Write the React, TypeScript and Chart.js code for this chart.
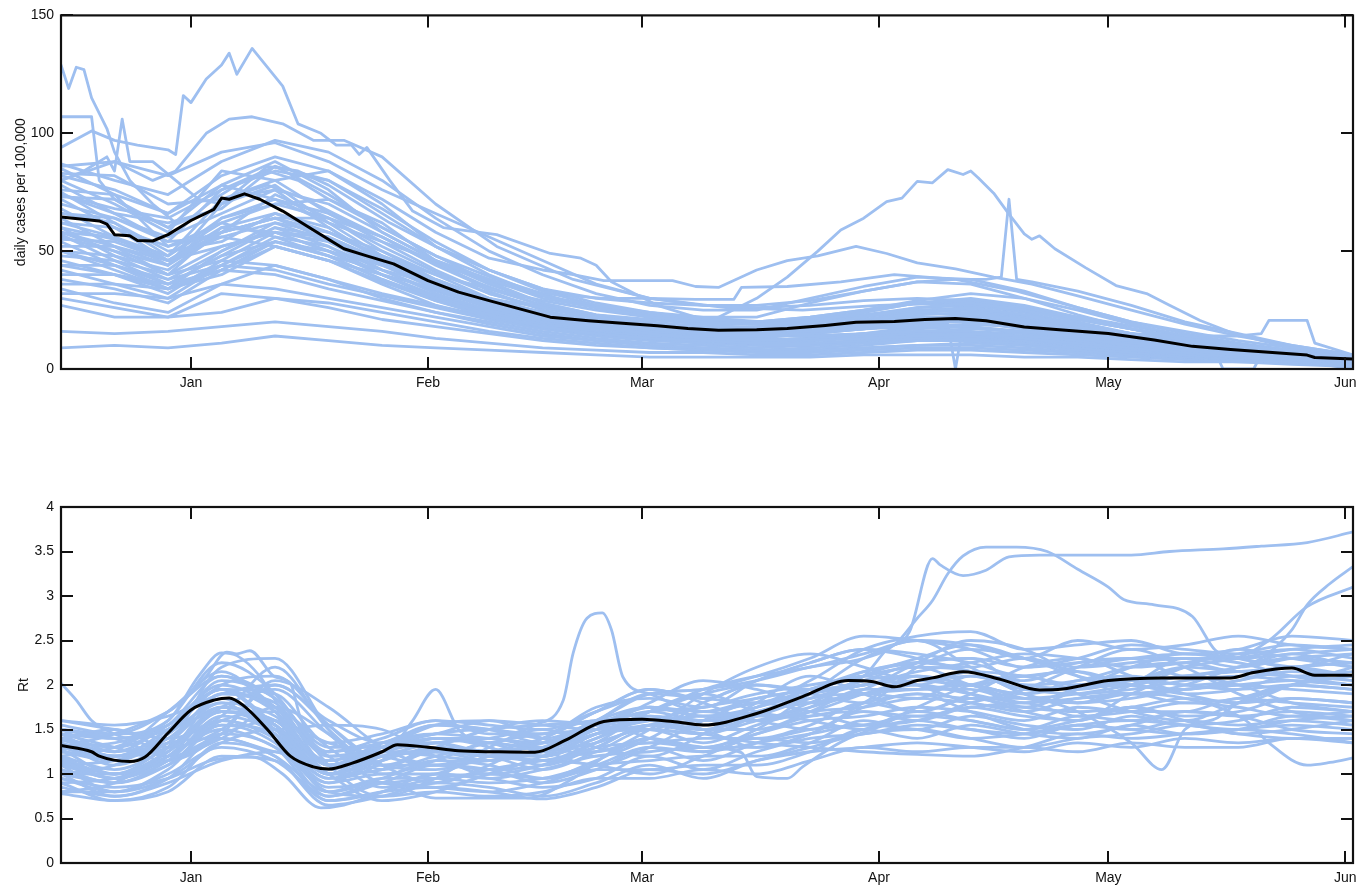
import React, { useEffect, useRef } from 'react';
import { Chart, registerables } from 'chart.js';

Chart.register(...registerables);

// ---------- axes ----------
const MONTH_DAYS = [0, 31, 59, 90, 120, 151];
const MONTH_LABELS = ['Jan', 'Feb', 'Mar', 'Apr', 'May', 'Jun'];
const X_MIN = -17;
const X_MAX = 152;
const CASES_TICKS = [0, 50, 100, 150];
const RT_TICKS = [0, 0.5, 1, 1.5, 2, 2.5, 3, 3.5, 4];

// shared weekly day grid (days since Jan 1) for the ordinary series
const GRID_DAYS = [-17, -10, -3, 4, 11, 18, 25, 32, 39, 46, 53, 60, 67, 74, 81, 88, 95, 102, 109, 116, 123, 130, 137, 144, 152];

// ---------- top panel: daily cases per 100,000 ----------
const CASES_MEAN_DAYS = [-17, -12, -11, -10, -8, -7, -5, -3, -1, 0, 3, 4, 5, 7, 9, 12, 16, 20, 23, 26.5, 31, 35, 39, 43, 47, 52, 56, 61, 65, 69, 74, 78, 83, 87, 92, 96, 100, 104, 109, 114, 120, 126, 131, 136, 141, 146, 147, 152];
const CASES_MEAN = [64.5, 62.8, 61.5, 57, 56.5, 54.5, 54.3, 57, 61, 63, 67.7, 72.5, 72, 74.3, 72, 67, 59, 51, 48, 44.6, 37.5, 32.6, 29, 25.5, 22, 20.5, 19.5, 18.3, 17.2, 16.4, 16.6, 17.2, 18.5, 19.8, 20.2, 21, 21.4, 20.5, 17.8, 16.5, 15.1, 12.3, 9.6, 8.3, 7.1, 5.9, 4.9, 4.2];

const CASES_LINES = [
  [85, 74, 66, 78, 88, 76, 58, 46, 38, 30, 26, 22, 20, 19, 20, 24, 28, 30, 27, 22, 17, 13, 10, 7, 5],
  [83, 82, 70, 72, 80, 84, 70, 52, 40, 31, 27, 24, 22, 22, 28, 33, 37, 36, 30, 23, 17, 12, 9, 7, 5],
  [80, 70, 58, 84, 80, 66, 54, 42, 32, 26, 21, 18, 16, 15, 17, 20, 24, 26, 23, 18, 14, 11, 8, 6, 4],
  [78, 66, 62, 68, 86, 74, 60, 48, 37, 28, 23, 21, 19, 17, 16, 17, 19, 21, 20, 17, 14, 11, 9, 6, 4],
  [76, 74, 52, 62, 70, 72, 62, 46, 33, 25, 20, 17, 15, 14, 15, 17, 18, 19, 18, 16, 13, 10, 8, 5, 3],
  [75, 62, 48, 72, 76, 60, 46, 37, 30, 26, 22, 19, 17, 17, 19, 22, 26, 28, 25, 20, 15, 11, 8, 6, 3],
  [73, 72, 60, 78, 72, 62, 54, 46, 38, 31, 26, 23, 21, 20, 22, 25, 29, 32, 30, 25, 19, 14, 10, 7, 5],
  [72, 60, 46, 58, 74, 64, 50, 38, 29, 23, 20, 18, 16, 14, 14, 15, 16, 17, 16, 14, 12, 10, 7, 5, 3],
  [70, 64, 54, 56, 62, 58, 50, 40, 30, 23, 18, 15, 13, 12, 13, 15, 17, 18, 16, 13, 10, 8, 6, 4, 3],
  [68, 56, 44, 70, 78, 62, 48, 40, 34, 29, 25, 22, 20, 19, 21, 24, 28, 29, 26, 21, 17, 13, 10, 8, 5],
  [66, 62, 50, 54, 66, 60, 46, 34, 26, 21, 18, 16, 15, 15, 16, 18, 20, 20, 17, 14, 11, 9, 7, 5, 3],
  [64, 52, 40, 60, 58, 50, 44, 36, 28, 22, 18, 16, 14, 13, 12, 13, 14, 15, 14, 12, 10, 8, 6, 4, 3],
  [62, 60, 52, 58, 64, 64, 56, 44, 34, 27, 22, 19, 17, 17, 19, 22, 25, 26, 23, 19, 15, 11, 9, 7, 5],
  [60, 48, 38, 50, 62, 54, 42, 32, 25, 20, 17, 15, 13, 12, 13, 14, 15, 15, 13, 11, 9, 7, 5, 4, 2],
  [58, 56, 48, 62, 56, 48, 42, 36, 29, 23, 20, 18, 17, 16, 17, 19, 21, 23, 21, 17, 13, 10, 8, 6, 4],
  [57, 46, 36, 48, 60, 52, 40, 30, 23, 18, 15, 13, 12, 11, 12, 14, 16, 16, 13, 10, 8, 7, 5, 4, 0],
  [55, 54, 46, 52, 58, 56, 46, 35, 27, 22, 19, 17, 15, 14, 15, 18, 21, 22, 20, 16, 12, 10, 8, 6, 4],
  [54, 44, 34, 44, 54, 48, 38, 29, 22, 18, 15, 13, 12, 11, 11, 12, 13, 14, 13, 11, 8, 6, 5, 3, 2],
  [52, 52, 46, 56, 52, 46, 40, 34, 29, 24, 21, 19, 18, 17, 18, 20, 22, 22, 19, 15, 12, 10, 8, 6, 4],
  [50, 42, 34, 42, 52, 46, 36, 27, 21, 17, 15, 13, 12, 11, 11, 12, 14, 14, 12, 10, 8, 7, 5, 4, 2],
  [48, 46, 40, 46, 58, 54, 44, 34, 26, 21, 18, 16, 14, 13, 15, 17, 20, 20, 17, 14, 11, 9, 7, 5, 3],
  [46, 40, 32, 46, 44, 38, 32, 27, 22, 18, 15, 13, 11, 10, 10, 11, 12, 13, 12, 10, 8, 6, 5, 3, 2],
  [44, 44, 38, 44, 56, 52, 42, 33, 26, 21, 18, 16, 15, 14, 16, 19, 22, 22, 18, 14, 12, 9, 7, 5, 3],
  [42, 36, 30, 44, 42, 36, 31, 26, 21, 17, 14, 12, 11, 10, 10, 11, 12, 12, 11, 9, 7, 6, 4, 3, 2],
  [40, 40, 36, 42, 54, 50, 40, 31, 24, 19, 16, 14, 13, 12, 13, 15, 18, 18, 15, 12, 10, 8, 6, 4, 3],
  [38, 34, 28, 42, 40, 34, 29, 24, 20, 16, 13, 11, 10, 9, 10, 12, 13, 13, 11, 9, 7, 5, 4, 3, 2],
  [36, 36, 34, 40, 52, 46, 37, 29, 23, 18, 15, 13, 12, 11, 12, 14, 15, 15, 13, 11, 9, 7, 5, 4, 2],
  [34, 28, 24, 36, 34, 30, 26, 22, 18, 14, 12, 10, 9, 8, 9, 10, 12, 12, 10, 8, 6, 5, 4, 3, 2],
  [32, 32, 30, 36, 44, 38, 30, 24, 19, 15, 12, 10, 9, 8, 8, 9, 10, 11, 10, 8, 6, 5, 4, 3, 2],
  [30, 26, 22, 32, 30, 28, 24, 20, 16, 13, 11, 9, 8, 8, 8, 9, 10, 10, 9, 7, 6, 5, 4, 3, 2],
  [27, 22, 22, 24, 30, 26, 21, 18, 15, 12, 10, 9, 8, 7, 7, 8, 9, 9, 8, 7, 6, 5, 4, 3, 2],
  [16, 15, 16, 18, 20, 18, 16, 13, 11, 9, 8, 7, 7, 6, 6, 7, 8, 8, 7, 6, 5, 4, 3, 3, 2],
  [9, 10, 9, 11, 14, 12, 10, 9, 8, 7, 6, 5, 5, 5, 5, 6, 6, 6, 5, 5, 4, 3, 3, 2, 1],
  [87, 80, 74, 88, 97, 92, 80, 64, 50, 40, 32, 27, 25, 25, 30, 35, 39, 38, 33, 26, 20, 16, 12, 9, 6],
  [80, 88, 82, 92, 96, 88, 76, 66, 56, 46, 36, 30, 27, 26, 27, 29, 30, 29, 26, 21, 17, 13, 10, 7, 5],
  [74, 68, 64, 76, 84, 80, 68, 54, 42, 33, 27, 23, 21, 20, 22, 25, 28, 28, 25, 21, 17, 13, 10, 7, 4],
  [66, 64, 56, 66, 76, 70, 58, 46, 36, 28, 23, 20, 18, 18, 20, 23, 26, 27, 24, 19, 15, 12, 9, 6, 4],
  [58, 50, 44, 64, 70, 64, 52, 41, 32, 26, 22, 19, 17, 16, 17, 20, 23, 24, 21, 17, 14, 11, 8, 6, 3],
  [50, 48, 42, 58, 64, 58, 48, 38, 30, 24, 20, 18, 16, 16, 18, 21, 24, 25, 22, 18, 14, 11, 8, 6, 4],
  [44, 40, 34, 50, 60, 56, 46, 37, 29, 23, 19, 17, 16, 15, 16, 18, 21, 21, 18, 15, 12, 9, 7, 5, 3],
];

// irregular series (own day lists)
const CASES_A_DAYS = [-17, -16, -15, -14, -13, -11, -10, -8, -5, -2, 2, 6, 10, 15, 20, 25, 31, 38, 45, 52, 60, 70, 80, 90, 100, 110, 120, 130, 140, 152];
const CASES_A = [129, 119, 128, 127, 115, 102, 92, 80, 70, 62, 66, 74, 78, 72, 64, 56, 46, 36, 28, 22, 18, 15, 14, 15, 16, 15, 12, 9, 6, 4];
const CASES_B_DAYS = [-17, -13, -10, -7, -3, -2, -1, 0, 2, 4, 5, 6, 8, 12, 14, 17, 19, 21, 22, 23, 26, 29, 33, 40, 47, 51, 53, 55, 61, 66, 75, 85, 95, 105, 115, 125, 135, 145, 152];
const CASES_B = [94, 101, 97, 95, 93, 91, 116, 113, 123, 129, 134, 125, 136, 120, 104, 100, 95, 95, 91, 94, 80, 67, 60, 57, 49, 47, 44, 37, 27, 22, 20, 22, 24, 22, 18, 14, 10, 7, 5];
const CASES_C_DAYS = [-17, -13, -12, -10, -7, -3, 0, 3, 7, 10, 14, 18, 25, 32, 40, 50, 60, 70, 80, 90, 100, 110, 120, 130, 140, 152];
const CASES_C = [107, 107, 80, 72, 66, 60, 64, 72, 80, 84, 80, 72, 60, 48, 38, 28, 22, 19, 19, 21, 22, 20, 16, 12, 8, 5];
const CASES_D_DAYS = [-17, -10, -5, -2, 2, 5, 8, 12, 16, 20, 25, 32, 40, 50, 60, 70, 80, 90, 100, 110, 120, 130, 140, 152];
const CASES_D = [86, 88, 80, 84, 100, 106, 107, 104, 97, 97, 90, 70, 52, 38, 30, 26, 25, 27, 28, 25, 20, 14, 9, 6];
const CASES_E_DAYS = [-17, -10, -3, 4, 11, 18, 25, 32, 39, 46, 53, 60, 66, 69, 74, 78, 82, 85, 88, 90, 91, 93, 95, 97, 99, 101, 102, 103, 105, 107, 109, 110, 111, 113, 117, 121, 125, 128, 132, 136, 140, 144, 148, 152];
const CASES_E = [58, 52, 44, 58, 64, 55, 45, 35, 28, 23, 20, 18, 19, 22, 30, 39, 50, 59, 64, 68.7, 71, 72.5, 79.6, 79, 84.6, 82.5, 84, 81, 74.6, 65.7, 57.3, 55, 56.5, 51, 43, 35.4, 32, 27, 20.6, 15.6, 12, 9, 7, 5];
const CASES_F_DAYS = [-17, -10, -3, 4, 11, 18, 25, 32, 39, 46, 53, 60, 67, 74, 81, 88, 95, 100, 104, 106, 107, 108, 110, 116, 123, 130, 137, 144, 152];
const CASES_F = [74, 66, 54, 76, 86, 80, 66, 52, 42, 34, 30, 28, 27, 27, 29, 33, 37, 38, 38, 39, 72, 38, 37, 33, 27, 20, 15, 10, 6];
const CASES_G_DAYS = [-17, -10, -3, 4, 11, 18, 25, 32, 39, 46, 50, 54, 60, 63, 66, 69, 74, 78, 82, 87, 91, 95, 100, 105, 110, 116, 123, 130, 137, 144, 152];
const CASES_G = [82, 76, 66, 82, 90, 84, 72, 58, 47, 42, 40, 37.5, 37.5, 37.5, 35, 34.6, 42, 46, 48, 52, 49, 45, 42.5, 39, 36, 31, 25, 19, 14, 10, 6];
const CASES_H_DAYS = [-17, -10, -3, 4, 11, 18, 25, 32, 39, 46, 54, 60, 66, 71, 72, 78, 85, 92, 100, 108, 116, 123, 130, 137, 144, 152];
const CASES_H = [60, 55, 48, 64, 72, 66, 56, 45, 37, 32, 30, 30, 29.5, 29.5, 34.6, 35, 37, 40, 38, 33, 26, 20, 15, 11, 8, 5];
const CASES_I_DAYS = [-17, -10, -3, 4, 11, 18, 25, 32, 39, 46, 53, 60, 67, 74, 81, 88, 95, 102, 109, 116, 123, 130, 137, 140, 141, 146, 147, 152];
const CASES_I = [62, 56, 46, 60, 66, 58, 47, 37, 29, 24, 20, 18, 16, 15, 16, 18, 20, 21, 19, 17, 15, 14, 14, 15, 20.6, 20.6, 11, 6];
const CASES_J_DAYS = [-17, -10, -3, 4, 11, 18, 25, 32, 39, 46, 53, 60, 67, 74, 81, 88, 95, 99, 100, 101, 109, 116, 123, 130, 137, 144, 152];
const CASES_J = [56, 50, 40, 52, 58, 50, 40, 31, 25, 20, 17, 15, 14, 14, 15, 17, 19, 19, 0, 19, 18, 15, 12, 9, 7, 5, 3];
const CASES_K_DAYS = [-17, -10, -3, 4, 11, 18, 25, 32, 39, 46, 53, 60, 67, 74, 81, 88, 95, 102, 109, 116, 123, 130, 134, 135, 139, 140, 144, 152];
const CASES_K = [50, 44, 36, 48, 54, 48, 38, 30, 24, 19, 16, 14, 12, 11, 12, 14, 15, 15, 14, 12, 10, 8, 7, 0, 0, 6, 4, 2];
const CASES_M_DAYS = [-17, -14, -11, -10, -9, -8, -5, -2, 1, 4, 7, 10, 14, 18, 22, 26, 32, 39, 46, 53, 60, 67, 74, 81, 88, 95, 102, 109, 116, 123, 130, 137, 144, 152];
const CASES_M = [80, 84, 90, 84, 106, 88, 88, 80, 72, 70, 78, 86, 84, 78, 70, 62, 52, 42, 34, 28, 24, 21, 20, 21, 23, 25, 25, 22, 19, 15, 12, 9, 7, 4];

// ---------- bottom panel: Rt ----------
const RT_MEAN_DAYS = [-17, -13, -12, -8, -6, -3, 0, 3, 5, 7, 10, 13, 16, 18, 21, 25, 27, 31, 35, 40, 45, 49, 54, 59, 63, 67, 74, 80, 86, 89, 92, 95, 97, 101, 106, 111, 114, 120, 127, 136, 139, 144, 147, 152];
const RT_MEAN = [1.32, 1.25, 1.2, 1.14, 1.19, 1.46, 1.72, 1.83, 1.855, 1.76, 1.5, 1.2, 1.08, 1.055, 1.12, 1.25, 1.33, 1.3, 1.26, 1.25, 1.245, 1.38, 1.59, 1.615, 1.59, 1.55, 1.68, 1.87, 2.05, 2.04, 1.98, 2.05, 2.08, 2.15, 2.06, 1.945, 1.955, 2.05, 2.08, 2.08, 2.14, 2.19, 2.11, 2.11];

const RT_LINES = [
  [1.55, 1.45, 1.7, 2.15, 1.7, 1.1, 1.3, 1.55, 1.5, 1.35, 1.6, 1.9, 1.85, 1.8, 2.05, 2.4, 2.55, 2.6, 2.4, 2.45, 2.5, 2.35, 2.4, 2.55, 2.5],
  [1.5, 1.25, 1.45, 2.05, 1.85, 1.25, 1.35, 1.45, 1.6, 1.55, 1.5, 1.7, 1.9, 2.0, 1.95, 2.15, 2.25, 2.2, 2.3, 2.2, 2.25, 2.3, 2.2, 2.3, 2.35],
  [1.45, 1.4, 1.5, 1.95, 1.9, 1.35, 1.45, 1.6, 1.45, 1.45, 1.75, 1.85, 1.75, 2.05, 2.25, 2.4, 2.3, 2.15, 2.05, 2.25, 2.3, 2.1, 2.2, 2.35, 2.2],
  [1.4, 1.2, 1.35, 1.9, 1.75, 1.2, 1.25, 1.4, 1.4, 1.3, 1.5, 1.75, 1.65, 1.7, 1.9, 2.05, 2.25, 2.3, 2.0, 2.05, 2.2, 2.25, 2.15, 2.2, 2.25],
  [1.38, 1.25, 1.55, 1.95, 1.5, 1.0, 1.3, 1.35, 1.25, 1.35, 1.55, 1.6, 1.55, 1.75, 1.95, 2.1, 2.0, 2.15, 2.1, 2.0, 2.05, 2.2, 2.15, 2.1, 2.15],
  [1.35, 1.1, 1.35, 1.8, 1.65, 1.1, 1.15, 1.4, 1.35, 1.2, 1.4, 1.65, 1.6, 1.6, 1.8, 2.05, 2.1, 2.0, 1.9, 2.05, 2.1, 2.0, 2.05, 2.2, 2.1],
  [1.3, 1.15, 1.4, 1.85, 1.45, 0.9, 1.2, 1.25, 1.15, 1.25, 1.45, 1.5, 1.45, 1.65, 1.85, 1.9, 1.85, 2.1, 1.95, 1.9, 1.95, 2.05, 2.1, 2.05, 2.0],
  [1.28, 1.0, 1.25, 1.7, 1.55, 1.0, 1.05, 1.3, 1.25, 1.15, 1.3, 1.55, 1.5, 1.5, 1.7, 1.95, 1.95, 1.95, 1.8, 1.95, 2.0, 1.9, 1.95, 2.1, 2.05],
  [1.25, 1.15, 1.45, 1.95, 1.55, 1.0, 1.25, 1.25, 1.2, 1.2, 1.45, 1.55, 1.6, 1.65, 1.65, 1.8, 1.9, 1.85, 1.85, 1.8, 1.85, 1.95, 2.0, 1.95, 1.9],
  [1.2, 0.95, 1.25, 1.75, 1.55, 1.0, 1.05, 1.25, 1.2, 1.05, 1.25, 1.5, 1.35, 1.55, 1.7, 1.75, 1.85, 1.8, 1.7, 1.85, 1.9, 1.8, 1.85, 2.0, 1.95],
  [1.18, 1.0, 1.3, 1.6, 1.4, 0.95, 1.1, 1.1, 1.05, 1.1, 1.3, 1.35, 1.4, 1.4, 1.55, 1.8, 1.7, 1.85, 1.75, 1.7, 1.75, 1.85, 1.8, 1.85, 1.8],
  [1.15, 0.95, 1.15, 1.65, 1.45, 0.8, 0.95, 1.15, 1.1, 0.95, 1.15, 1.4, 1.25, 1.45, 1.6, 1.65, 1.75, 1.7, 1.6, 1.75, 1.7, 1.7, 1.85, 1.8, 1.75],
  [1.12, 0.95, 1.2, 1.5, 1.3, 0.9, 1.0, 1.0, 0.95, 1.05, 1.2, 1.25, 1.3, 1.3, 1.45, 1.7, 1.6, 1.75, 1.65, 1.6, 1.75, 1.65, 1.7, 1.85, 1.8],
  [1.1, 0.8, 1.05, 1.55, 1.35, 0.75, 0.9, 1.1, 1.05, 0.9, 1.05, 1.3, 1.15, 1.35, 1.5, 1.55, 1.65, 1.6, 1.5, 1.65, 1.6, 1.7, 1.65, 1.7, 1.65],
  [1.05, 0.9, 1.1, 1.4, 1.2, 0.8, 0.95, 0.95, 0.9, 0.95, 1.1, 1.15, 1.2, 1.2, 1.35, 1.6, 1.5, 1.65, 1.55, 1.5, 1.65, 1.55, 1.6, 1.75, 1.7],
  [1.0, 0.75, 0.95, 1.45, 1.3, 0.7, 0.8, 1.0, 0.95, 0.85, 0.95, 1.2, 1.05, 1.25, 1.4, 1.45, 1.55, 1.5, 1.4, 1.55, 1.5, 1.6, 1.55, 1.6, 1.55],
  [0.95, 0.8, 1.0, 1.3, 1.15, 0.75, 0.9, 0.85, 0.8, 0.9, 1.05, 1.05, 1.1, 1.1, 1.25, 1.5, 1.4, 1.55, 1.45, 1.4, 1.55, 1.45, 1.5, 1.65, 1.6],
  [0.9, 0.7, 0.85, 1.35, 1.2, 0.65, 0.75, 0.9, 0.85, 0.75, 0.9, 1.1, 0.95, 1.15, 1.25, 1.3, 1.35, 1.3, 1.25, 1.35, 1.3, 1.4, 1.35, 1.4, 1.35],
  [0.85, 0.75, 0.9, 1.15, 1.25, 0.8, 0.75, 0.8, 0.75, 0.8, 0.95, 0.95, 1.05, 1.0, 1.15, 1.3, 1.25, 1.3, 1.3, 1.25, 1.35, 1.3, 1.3, 1.4, 1.4],
  [0.78, 0.7, 0.8, 1.2, 1.15, 0.7, 0.8, 0.85, 0.8, 0.72, 0.85, 1.05, 1.0, 1.15, 1.3, 1.45, 1.5, 1.4, 1.3, 1.4, 1.45, 1.55, 1.45, 1.4, 1.4],
  [1.6, 1.5, 1.4, 1.65, 2.2, 1.5, 1.1, 1.3, 1.5, 1.6, 1.55, 1.5, 1.8, 2.0, 1.9, 1.8, 2.2, 2.4, 2.3, 2.1, 2.0, 2.2, 2.4, 2.3, 2.2],
  [0.8, 0.9, 1.3, 2.2, 2.3, 1.5, 0.9, 1.0, 1.2, 1.3, 1.2, 1.4, 1.7, 1.6, 1.5, 1.8, 2.1, 1.9, 1.7, 1.6, 1.9, 2.1, 2.0, 1.8, 1.7],
  [1.4, 1.5, 1.3, 1.5, 2.0, 1.55, 1.1, 0.9, 1.1, 1.4, 1.6, 1.4, 1.3, 1.5, 1.9, 2.3, 2.5, 2.2, 1.9, 1.8, 2.0, 2.3, 2.25, 2.1, 2.0],
  [1.2, 1.3, 1.6, 2.25, 1.9, 1.1, 0.75, 0.95, 1.3, 1.5, 1.3, 1.2, 1.45, 1.8, 2.1, 1.9, 1.7, 1.9, 2.2, 2.3, 2.1, 1.9, 1.8, 2.0, 2.2],
  [1.0, 1.1, 1.45, 1.8, 1.5, 1.55, 1.5, 1.2, 1.0, 1.1, 1.35, 1.7, 1.9, 1.7, 1.6, 1.5, 1.75, 2.0, 2.1, 1.9, 1.7, 1.6, 1.8, 2.0, 2.1],
  [1.5, 1.4, 1.2, 1.4, 1.75, 1.45, 1.0, 1.15, 1.35, 1.25, 1.1, 1.3, 1.6, 1.8, 1.7, 1.55, 1.6, 1.8, 1.95, 2.2, 2.4, 2.2, 1.9, 1.7, 1.6],
  [0.9, 0.95, 1.2, 1.6, 1.7, 1.3, 0.9, 0.85, 1.0, 1.2, 1.45, 1.65, 1.5, 1.3, 1.45, 1.75, 1.9, 1.7, 1.5, 1.45, 1.55, 1.7, 1.65, 1.5, 1.45],
  [1.3, 1.45, 1.7, 2.1, 1.75, 1.1, 1.3, 1.55, 1.6, 1.4, 1.25, 1.5, 1.9, 2.2, 2.35, 2.2, 2.0, 1.8, 1.75, 1.95, 2.2, 2.35, 2.3, 2.2, 2.35],
  [1.1, 1.15, 1.35, 1.4, 1.25, 1.15, 1.3, 1.4, 1.3, 1.1, 1.3, 1.55, 1.45, 1.35, 1.3, 1.25, 1.22, 1.2, 1.3, 1.45, 1.4, 1.45, 1.5, 1.45, 1.35],
  [1.45, 1.3, 1.15, 1.45, 2.05, 1.75, 1.3, 1.1, 1.25, 1.4, 1.7, 1.95, 1.8, 1.6, 1.75, 2.1, 2.3, 2.45, 2.3, 2.15, 2.05, 2.2, 2.3, 2.4, 2.45],
  [0.8, 0.8, 0.95, 1.35, 1.5, 1.0, 0.7, 0.8, 1.0, 1.15, 1.1, 1.0, 1.2, 1.4, 1.35, 1.5, 1.7, 1.6, 1.5, 1.6, 1.75, 1.6, 1.45, 1.5, 1.6],
  [1.25, 1.2, 1.5, 2.0, 2.1, 1.55, 1.1, 1.05, 1.2, 1.35, 1.5, 1.8, 2.05, 1.95, 1.8, 1.95, 2.25, 2.5, 2.4, 2.1, 1.9, 2.0, 2.2, 2.3, 2.25],
  [1.6, 1.55, 1.65, 1.9, 2.0, 1.6, 1.35, 1.35, 1.5, 1.55, 1.6, 1.7, 1.95, 2.1, 2.2, 2.35, 2.5, 2.45, 2.3, 2.5, 2.4, 2.45, 2.55, 2.45, 2.4],
  [1.3, 1.35, 1.5, 1.7, 1.6, 1.35, 1.2, 1.1, 1.15, 1.25, 1.35, 1.55, 1.65, 1.6, 1.7, 1.9, 2.05, 2.0, 2.1, 2.15, 2.0, 1.95, 2.05, 2.15, 2.1],
  [1.0, 1.0, 1.15, 1.45, 1.6, 1.2, 0.85, 0.9, 1.05, 1.15, 1.25, 1.35, 1.3, 1.45, 1.65, 1.7, 1.65, 1.75, 1.8, 1.65, 1.7, 1.8, 1.75, 1.65, 1.7],
  [1.45, 1.2, 1.3, 1.75, 1.95, 1.45, 1.05, 1.2, 1.35, 1.45, 1.5, 1.6, 1.75, 1.85, 1.95, 2.0, 2.15, 2.25, 2.35, 2.3, 2.2, 2.25, 2.35, 2.45, 2.4],
];

const RT_J_DAYS = [-17, -10, -3, 2, 4.7, 6, 7.7, 11, 13, 14.3, 18, 25, 32, 39, 46, 53, 60, 67, 74, 81, 88, 95, 102, 109, 116, 123, 130, 137, 144, 152];
const RT_J = [1.4, 1.3, 1.7, 2.1, 2.37, 2.35, 2.385, 2.09, 2.02, 1.64, 1.2, 1.3, 1.45, 1.5, 1.4, 1.6, 1.9, 1.95, 2.1, 2.3, 2.55, 2.5, 2.4, 2.2, 2.3, 2.45, 2.4, 2.35, 2.4, 2.3];
const RT_J2_DAYS = [-17, -10, -3, 1, 4, 6, 9, 12, 18, 25, 32, 39, 46, 53, 60, 67, 74, 81, 88, 95, 102, 109, 116, 123, 130, 137, 144, 152];
const RT_J2 = [1.5, 1.45, 1.6, 2.1, 2.36, 2.33, 2.1, 1.7, 1.25, 1.35, 1.55, 1.5, 1.45, 1.7, 1.95, 1.85, 2.05, 2.25, 2.4, 2.35, 2.25, 2.1, 2.2, 2.3, 2.35, 2.3, 2.35, 2.4];
const RT_K_DAYS = [-17, -10, -3, 3, 8, 12, 17, 20, 25, 32, 39, 46, 53, 60, 67, 74, 81, 88, 95, 102, 109, 116, 123, 130, 137, 144, 152];
const RT_K = [0.95, 0.85, 0.95, 1.16, 1.19, 1.0, 0.62, 0.65, 0.8, 0.95, 1.0, 0.95, 1.1, 1.3, 1.25, 1.35, 1.45, 1.55, 1.5, 1.4, 1.45, 1.55, 1.5, 1.45, 1.5, 1.55, 1.5];
const RT_L_DAYS = [-17, -10, -3, 4, 11, 18, 25, 32, 38, 44, 50, 56, 60, 67, 72, 74, 78, 80, 86, 95, 102, 109, 116, 123, 130, 137, 144, 152];
const RT_L = [1.05, 0.9, 1.15, 1.6, 1.4, 0.85, 0.9, 0.73, 0.73, 0.73, 0.95, 1.3, 1.4, 1.3, 1.24, 0.97, 0.95, 1.08, 1.4, 1.6, 1.5, 1.45, 1.55, 1.6, 1.55, 1.5, 1.6, 1.65];
const RT_V_DAYS = [-17, -10, -3, 4, 11, 18, 25, 32, 39, 46, 53, 60, 67, 74, 81, 88, 95, 102, 109, 116, 123, 127, 130, 134, 137, 144, 152];
const RT_V = [1.35, 1.2, 1.4, 1.75, 1.6, 1.15, 1.25, 1.2, 1.15, 1.3, 1.55, 1.7, 1.75, 1.9, 2.0, 2.1, 2.2, 2.15, 1.9, 1.7, 1.35, 1.05, 1.5, 1.62, 1.8, 2.0, 2.1];
const RT_W_DAYS = [-17, -10, -3, 4, 11, 18, 25, 32, 39, 46, 53, 60, 67, 74, 81, 88, 95, 102, 109, 116, 123, 130, 138, 141, 146, 149, 152];
const RT_W = [1.2, 1.05, 1.3, 1.7, 1.55, 1.05, 1.2, 1.25, 1.2, 1.15, 1.35, 1.5, 1.45, 1.6, 1.75, 1.9, 1.95, 2.0, 1.85, 1.8, 1.9, 1.85, 1.6, 1.35, 1.1, 1.13, 1.18];
const RT_P1_DAYS = [-17, -10, -3, 4, 11, 18, 25, 32, 39, 46, 53, 60, 67, 74, 81, 88, 91, 94, 97, 98, 101, 104, 107, 111, 117, 123, 128, 135, 140, 146, 152];
const RT_P1 = [1.3, 1.2, 1.5, 1.95, 1.7, 1.1, 1.35, 1.45, 1.4, 1.35, 1.6, 1.75, 1.7, 1.8, 1.9, 2.1, 2.4, 2.6, 3.42, 3.35, 3.23, 3.29, 3.44, 3.46, 3.46, 3.46, 3.5, 3.53, 3.56, 3.6, 3.72];
const RT_P2_DAYS = [-17, -10, -3, 4, 11, 18, 25, 32, 39, 46, 53, 60, 67, 74, 81, 88, 92, 95, 97, 99, 101, 104, 108, 112, 116, 120, 122, 126, 131, 134, 137, 144, 152];
const RT_P2 = [1.5, 1.4, 1.55, 2.0, 1.75, 1.25, 1.4, 1.6, 1.55, 1.5, 1.7, 1.9, 1.95, 2.05, 2.2, 2.3, 2.45, 2.75, 2.95, 3.25, 3.45, 3.55, 3.55, 3.5, 3.3, 3.1, 2.96, 2.9, 2.77, 2.39, 2.3, 2.2, 2.1];
const RT_P3_DAYS = [-17, -10, -3, 4, 11, 18, 25, 32, 39, 46, 53, 60, 67, 74, 81, 88, 95, 102, 109, 116, 123, 130, 137, 140, 144, 146, 149, 152];
const RT_P3 = [1.15, 1.0, 1.25, 1.7, 1.5, 1.0, 1.15, 1.3, 1.25, 1.2, 1.45, 1.6, 1.5, 1.65, 1.85, 2.0, 2.05, 2.1, 2.0, 1.95, 2.05, 2.1, 2.2, 2.3, 2.62, 2.9, 3.14, 3.33];
const RT_P4_DAYS = [-17, -10, -3, 4, 11, 18, 25, 32, 39, 46, 53, 60, 67, 74, 81, 88, 95, 102, 109, 116, 123, 130, 136, 141, 146, 152];
const RT_P4 = [1.4, 1.3, 1.55, 2.1, 1.85, 1.3, 1.3, 1.4, 1.35, 1.3, 1.55, 1.75, 1.65, 1.75, 1.95, 2.15, 2.25, 2.3, 2.2, 2.25, 2.3, 2.3, 2.3, 2.5, 2.88, 3.1];
const RT_S_DAYS = [-17, -10, -3, 4, 11, 18, 25, 32, 39, 45, 48.7, 50, 51.8, 53.8, 55, 56.5, 60, 67, 74, 81, 88, 95, 102, 109, 116, 123, 130, 137, 144, 152];
const RT_S = [1.1, 0.95, 1.2, 1.7, 1.6, 1.0, 1.2, 1.35, 1.4, 1.55, 1.83, 2.36, 2.75, 2.81, 2.62, 2.09, 1.9, 1.7, 1.85, 1.95, 2.1, 2.2, 2.0, 1.85, 1.9, 2.0, 2.1, 2.15, 2.2, 2.25];
const RT_T_DAYS = [-17, -10, -3, 4, 11, 18, 25, 29, 32, 35, 39, 46, 53, 60, 67, 74, 81, 88, 95, 102, 109, 116, 123, 130, 137, 144, 152];
const RT_T = [1.0, 0.9, 1.1, 1.55, 1.45, 0.95, 1.15, 1.6, 1.95, 1.5, 1.3, 1.2, 1.4, 1.6, 1.5, 1.7, 1.8, 1.9, 2.0, 1.9, 1.8, 1.85, 1.9, 1.95, 2.0, 2.05, 2.0];
const RT_U_DAYS = [-17, -15, -13, -10, -3, 4, 11, 18, 25, 32, 39, 46, 53, 60, 67, 74, 81, 88, 95, 102, 109, 116, 123, 130, 137, 144, 152];
const RT_U = [2.02, 1.83, 1.6, 1.45, 1.3, 1.9, 1.8, 1.1, 1.25, 1.35, 1.2, 1.25, 1.5, 1.7, 1.6, 1.75, 1.9, 2.0, 2.1, 2.0, 1.9, 2.0, 2.05, 2.0, 1.95, 2.0, 1.95];

// ---------- styling ----------
const BLUE = '#9EBFF0';
const INK = '#111111';
const FONT = "'Liberation Sans', Arial, Helvetica, sans-serif";

type Pt = { x: number; y: number };
const toPoints = (days: number[], vals: number[]): Pt[] => {
  const n = Math.min(days.length, vals.length);
  const out: Pt[] = [];
  for (let i = 0; i < n; i++) out.push({ x: days[i], y: vals[i] });
  return out;
};

const framePlugin = {
  id: 'frame',
  afterDatasetsDraw(chart: any, _args: any, opts: any) {
    const { ctx, chartArea: a, scales } = chart;
    const xs = scales.x;
    const ys = scales.y;
    const tl = 12;
    ctx.save();
    ctx.strokeStyle = INK;
    ctx.lineWidth = 2;
    ctx.lineCap = 'butt';
    ctx.beginPath();
    for (const d of MONTH_DAYS) {
      const px = Math.round(xs.getPixelForValue(d));
      ctx.moveTo(px, a.bottom);
      ctx.lineTo(px, a.bottom - tl);
      ctx.moveTo(px, a.top);
      ctx.lineTo(px, a.top + tl);
    }
    for (const v of (opts.yTicks || []) as number[]) {
      const py = Math.round(ys.getPixelForValue(v));
      ctx.moveTo(a.left, py);
      ctx.lineTo(a.left + tl, py);
      ctx.moveTo(a.right, py);
      ctx.lineTo(a.right - tl, py);
    }
    ctx.stroke();
    ctx.lineWidth = 2.2;
    ctx.strokeRect(a.left, a.top, a.right - a.left, a.bottom - a.top);
    ctx.restore();
  },
};

function buildConfig(opts: {
  datasets: any[];
  yMax: number;
  yTicks: number[];
  title: string;
  titlePad: number;
  layoutTop: number;
  xAxisHeight: number;
  xLabelPad: number;
}) {
  return {
    type: 'line' as const,
    data: { datasets: opts.datasets },
    plugins: [framePlugin],
    options: {
      responsive: false,
      animation: false as const,
      events: [],
      layout: { padding: { top: opts.layoutTop, right: 16, left: 0, bottom: 0 } },
      plugins: {
        legend: { display: false },
        tooltip: { enabled: false },
        frame: { yTicks: opts.yTicks },
      },
      elements: { point: { radius: 0 } },
      scales: {
        x: {
          type: 'linear' as const,
          min: X_MIN,
          max: X_MAX,
          grid: { display: false, drawTicks: false },
          border: { display: false },
          afterBuildTicks: (s: any) => {
            s.ticks = MONTH_DAYS.map((v) => ({ value: v }));
          },
          afterFit: (s: any) => {
            s.height = opts.xAxisHeight;
          },
          ticks: {
            autoSkip: false,
            maxRotation: 0,
            minRotation: 0,
            padding: opts.xLabelPad,
            color: INK,
            font: { family: FONT, size: 14 },
            callback: (v: any) => {
              const i = MONTH_DAYS.indexOf(Number(v));
              return i >= 0 ? MONTH_LABELS[i] : '';
            },
          },
        },
        y: {
          type: 'linear' as const,
          min: 0,
          max: opts.yMax,
          grid: { display: false, drawTicks: false },
          border: { display: false },
          afterBuildTicks: (s: any) => {
            s.ticks = opts.yTicks.map((v) => ({ value: v }));
          },
          afterFit: (s: any) => {
            s.width = 61;
          },
          ticks: {
            padding: 7,
            color: INK,
            font: { family: FONT, size: 14 },
            callback: (v: any) => String(v),
          },
          title: {
            display: true,
            text: opts.title,
            color: INK,
            font: { family: FONT, size: 14 },
            padding: { top: opts.titlePad, bottom: 0 },
          },
        },
      },
    },
  };
}

function blue(points: Pt[], smooth: boolean) {
  return {
    data: points,
    borderColor: BLUE,
    backgroundColor: BLUE,
    borderWidth: 2.8,
    pointRadius: 0,
    fill: false,
    order: 2,
    tension: 0,
    cubicInterpolationMode: smooth ? ('monotone' as const) : ('default' as const),
    borderJoinStyle: 'round' as const,
    borderCapStyle: 'round' as const,
  };
}

function black(points: Pt[], smooth: boolean) {
  return {
    data: points,
    borderColor: '#000000',
    borderWidth: 3,
    pointRadius: 0,
    fill: false,
    order: 1,
    tension: 0,
    cubicInterpolationMode: smooth ? ('monotone' as const) : ('default' as const),
    borderJoinStyle: 'round' as const,
  };
}

export default function App() {
  const topRef = useRef<HTMLCanvasElement>(null);
  const botRef = useRef<HTMLCanvasElement>(null);

  useEffect(() => {
    const casesSets: any[] = [black(toPoints(CASES_MEAN_DAYS, CASES_MEAN), false)];
    CASES_LINES.forEach((vals) => casesSets.push(blue(toPoints(GRID_DAYS, vals), false)));
    [
      [CASES_A_DAYS, CASES_A],
      [CASES_B_DAYS, CASES_B],
      [CASES_C_DAYS, CASES_C],
      [CASES_D_DAYS, CASES_D],
      [CASES_E_DAYS, CASES_E],
      [CASES_F_DAYS, CASES_F],
      [CASES_G_DAYS, CASES_G],
      [CASES_H_DAYS, CASES_H],
      [CASES_I_DAYS, CASES_I],
      [CASES_J_DAYS, CASES_J],
      [CASES_K_DAYS, CASES_K],
      [CASES_M_DAYS, CASES_M],
    ].forEach(([d, v]) => casesSets.push(blue(toPoints(d, v), false)));

    const rtSets: any[] = [black(toPoints(RT_MEAN_DAYS, RT_MEAN), true)];
    RT_LINES.forEach((vals) => rtSets.push(blue(toPoints(GRID_DAYS, vals), true)));
    [
      [RT_J_DAYS, RT_J],
      [RT_J2_DAYS, RT_J2],
      [RT_K_DAYS, RT_K],
      [RT_L_DAYS, RT_L],
      [RT_V_DAYS, RT_V],
      [RT_W_DAYS, RT_W],
      [RT_P1_DAYS, RT_P1],
      [RT_P2_DAYS, RT_P2],
      [RT_P3_DAYS, RT_P3],
      [RT_P4_DAYS, RT_P4],
      [RT_S_DAYS, RT_S],
      [RT_T_DAYS, RT_T],
      [RT_U_DAYS, RT_U],
    ].forEach(([d, v]) => rtSets.push(blue(toPoints(d, v), true)));

    const c1 = new Chart(
      topRef.current as HTMLCanvasElement,
      buildConfig({
        datasets: casesSets,
        yMax: 150,
        yTicks: CASES_TICKS,
        title: 'daily cases per 100,000',
        titlePad: 13,
        layoutTop: 13,
        xAxisHeight: 31,
        xLabelPad: 6,
      }) as any
    );
    const c2 = new Chart(
      botRef.current as HTMLCanvasElement,
      buildConfig({
        datasets: rtSets,
        yMax: 4,
        yTicks: RT_TICKS,
        title: 'Rt',
        titlePad: 16,
        layoutTop: 77,
        xAxisHeight: 23,
        xLabelPad: 7,
      }) as any
    );
    return () => {
      c1.destroy();
      c2.destroy();
    };
  }, []);

  return (
    <div style={{ position: 'fixed', left: 0, top: 0, width: 1369, height: 886, background: '#ffffff', overflow: 'hidden' }}>
      <canvas ref={topRef} width={1369} height={400} style={{ position: 'absolute', left: 0, top: 0, display: 'block' }} />
      <canvas ref={botRef} width={1369} height={456} style={{ position: 'absolute', left: 0, top: 430, display: 'block' }} />
    </div>
  );
}
